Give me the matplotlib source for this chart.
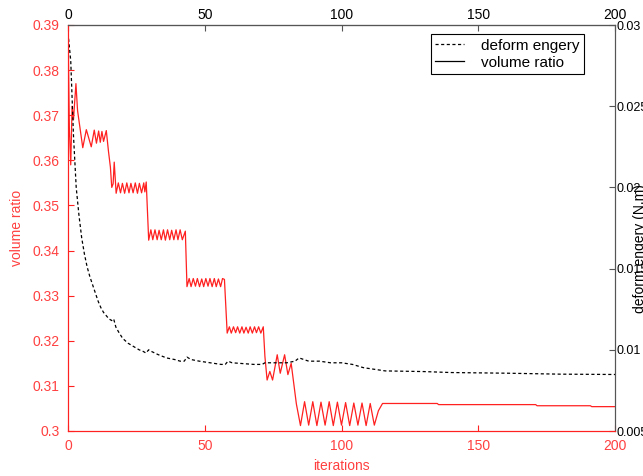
import matplotlib
matplotlib.use('Agg')
import matplotlib.pyplot as plt
from matplotlib.lines import Line2D

# volume ratio (left axis, red)
vol_iter = [0, 0.5, 1.0, 1.5, 2.0, 2.9, 3.5, 4.2, 5.4, 6.7, 8.5, 9.6, 10.4, 11.2, 11.8, 12.4, 13.0, 14.0,
            14.8, 15.5, 16.0, 16.5, 16.9, 17.6,
            18.4, 19.2, 19.9, 20.7, 21.5, 22.3, 23.0, 23.8, 24.6, 25.4, 26.1, 26.9, 27.7, 28.1, 28.6,
            29.5, 30.3, 31.0, 31.8, 32.6, 33.3, 34.1, 34.9, 35.6, 36.4, 37.2, 37.9, 38.7, 39.5, 40.2, 41.0, 41.8, 42.9,
            43.5, 44.3, 45.0, 45.8, 46.6, 47.3, 48.1, 48.9, 49.6, 50.4, 51.2, 51.9, 52.7, 53.5, 54.2, 55.0, 55.8, 56.5, 57.2,
            58.2, 59.0, 59.7, 60.5, 61.3, 62.0, 62.8, 63.6, 64.3, 65.1, 65.9, 66.6, 67.4, 68.2, 68.9, 69.7, 70.5, 71.4,
            72.0, 72.8, 73.8, 74.8, 76.5, 77.6, 79.2, 80.4, 81.6, 83.5,
            85.0, 86.5, 88.0, 89.5, 91.0, 92.5, 94.0, 95.5, 97.0, 98.5, 100.0, 101.5, 103.0, 104.5,
            106.0, 107.5, 109.0, 110.5, 112.0, 113.5, 115.0,
            135.0, 135.5, 171.0, 171.5, 191.0, 191.5, 200]
vol_ratio = [0.390, 0.367, 0.359, 0.372, 0.369, 0.377, 0.371, 0.368, 0.3628, 0.3668, 0.3630, 0.3667, 0.3638, 0.3665, 0.3640, 0.3664, 0.3642, 0.3666,
             0.3620, 0.3585, 0.3540, 0.3548, 0.3596, 0.3527,
             0.3550, 0.3528, 0.3549, 0.3527, 0.3550, 0.3528, 0.3549, 0.3528, 0.3550, 0.3527, 0.3549, 0.3528, 0.3550, 0.3530, 0.3552,
             0.3423, 0.3446, 0.3424, 0.3446, 0.3424, 0.3445, 0.3424, 0.3446, 0.3423, 0.3446, 0.3424, 0.3445, 0.3424, 0.3446, 0.3424, 0.3446, 0.3424, 0.3443,
             0.3320, 0.3338, 0.3320, 0.3338, 0.3321, 0.3338, 0.3320, 0.3337, 0.3320, 0.3338, 0.3321, 0.3338, 0.3320, 0.3338, 0.3320, 0.3337, 0.3320, 0.3338, 0.3336,
             0.3217, 0.3231, 0.3217, 0.3231, 0.3218, 0.3231, 0.3217, 0.3231, 0.3217, 0.3230, 0.3217, 0.3231, 0.3217, 0.3231, 0.3218, 0.3231, 0.3217, 0.3231,
             0.3165, 0.3113, 0.3132, 0.3113, 0.3169, 0.3128, 0.3169, 0.3125, 0.3150, 0.3060,
             0.3012, 0.3065, 0.3013, 0.3065, 0.3012, 0.3064, 0.3013, 0.3065, 0.3012, 0.3064, 0.3013, 0.3063, 0.3012, 0.3062,
             0.3013, 0.3062, 0.3012, 0.3061, 0.3013, 0.3045, 0.3061,
             0.3061, 0.30585, 0.30585, 0.3056, 0.3056, 0.3054, 0.3054]

# deform energy (right axis, black dashed)
energy_iter = [0, 1, 2, 3, 4, 5, 6, 7, 8, 9, 10, 11, 12, 13, 14, 15, 16, 16.7, 17.5, 18.5,
               20, 22, 24, 26, 27.5, 28.5, 29.5, 30.5, 33, 36, 39, 41, 42.5, 43.5, 45, 48,
               52, 56, 57.5, 58.5, 60, 64, 68, 71, 72, 75, 80, 83, 84.5, 88, 92, 96,
               100, 104, 108, 112, 116, 130, 140, 160, 180, 200]
deform_energy = [0.0295, 0.0278, 0.0232, 0.0200, 0.0183, 0.0169, 0.0159, 0.0151, 0.0145, 0.0140, 0.0135,
                 0.0130, 0.0126, 0.0123, 0.0121, 0.0119, 0.0118, 0.0119, 0.0114, 0.0111,
                 0.0107, 0.0104, 0.0102, 0.0100, 0.0099, 0.0098, 0.0100, 0.0099, 0.0097, 0.0095, 0.0094, 0.0093,
                 0.0093, 0.00955, 0.0094, 0.0093, 0.0092, 0.0091, 0.0091, 0.0093, 0.0092, 0.00915, 0.0091,
                 0.0091, 0.0092, 0.0092, 0.0092, 0.0093, 0.0095, 0.0093, 0.0093, 0.0092,
                 0.0092, 0.0091, 0.0089, 0.0088, 0.0087, 0.00866, 0.0086, 0.00856, 0.0085, 0.00848]

x_ticks = [0, 50, 100, 150, 200]
left_ticks = [0.30, 0.31, 0.32, 0.33, 0.34, 0.35, 0.36, 0.37, 0.38, 0.39]
right_ticks = [0.005, 0.01, 0.015, 0.02, 0.025, 0.03]

red = '#ff2020'
red_txt = '#ff4040'
grey = '#555555'

plt.rcParams['font.family'] = ['Liberation Sans', 'DejaVu Sans']
plt.rcParams['font.size'] = 10

fig = plt.figure(figsize=(6.43, 4.76), dpi=100, facecolor='white')
ax1 = fig.add_axes([68/643, 45/476, 547/643, 406/476])
ax2 = ax1.twinx()

ax1.plot(vol_iter, vol_ratio, color=red, lw=0.9)
ax2.plot(energy_iter, deform_energy, color='black', lw=0.9, linestyle=(0, (2.5, 2)))

ax1.set_xlim(0, 200)
ax1.set_ylim(0.30, 0.39)
ax2.set_ylim(0.005, 0.03)

ax1.set_xticks(x_ticks)
ax1.set_xticklabels([str(t) for t in x_ticks])
ax1.set_yticks(left_ticks)
ax1.set_yticklabels([f'{t:g}' for t in left_ticks])
ax2.set_yticks(right_ticks)
ax2.set_yticklabels([f'{t:g}' for t in right_ticks])

ax1.tick_params(axis='both', direction='in', length=4, colors=red, labelcolor=red_txt, pad=6)
ax2.tick_params(axis='y', direction='in', length=4, colors=grey, labelcolor='black',
                pad=1, labelsize=9)

top = ax1.secondary_xaxis('top')
top.set_xticks(x_ticks)
top.tick_params(direction='in', length=4, colors=grey, labelcolor='black', pad=2)
top.spines['top'].set_color(grey)

for ax in (ax1, ax2):
    ax.spines['left'].set_color(red)
    ax.spines['bottom'].set_color(red)
    ax.spines['top'].set_color(grey)
    ax.spines['right'].set_color(grey)

ax1.set_xlabel('iterations', color=red_txt, labelpad=4)
ax1.set_ylabel('volume ratio', color=red_txt, labelpad=6)
ax2.set_ylabel('deform engery (N.m)', color='black')
ax2.yaxis.set_label_coords(1.032, 0.45)

handles = [Line2D([], [], color='black', lw=0.9, linestyle=(0, (2.5, 2))),
           Line2D([], [], color='black', lw=0.9)]
leg = ax2.legend(handles, ['deform engery', 'volume ratio'], loc='upper right',
                 bbox_to_anchor=(584/643, 1 - 34/476), bbox_transform=fig.transFigure,
                 borderaxespad=0, fancybox=False, framealpha=1, edgecolor='black',
                 fontsize=11, handlelength=1.9, handletextpad=1.1, labelspacing=0.2,
                 borderpad=0.3)
leg.get_frame().set_linewidth(0.8)

plt.savefig('out.png', dpi=100, facecolor='white')
